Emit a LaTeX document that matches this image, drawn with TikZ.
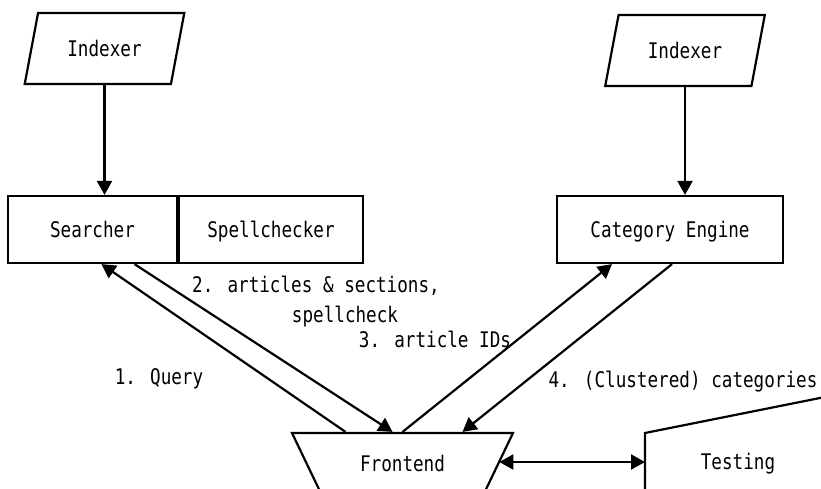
\documentclass[tikz,border=0pt]{standalone}
\usepackage{fontspec}
\newfontfamily\gothicfont[FakeStretch=0.82]{DejaVu Sans Mono}
\usetikzlibrary{
    arrows.meta,
    shapes.geometric
}

\begin{document}
\begin{tikzpicture}[x=1pt,y=-1pt,line width=2.2pt,>={Triangle[width=15pt,length=14pt]},font=\gothicfont\fontsize{21.5}{25}\selectfont]
    \tikzstyle{every node}=[text height=15.7pt, text depth=0pt]
    \tikzstyle{box}=[draw, rectangle, minimum height=67pt]
    \tikzstyle{indexer}=[draw, trapezium, trapezium left angle=70, trapezium right angle=110, trapezium stretches=true, minimum width=161pt, minimum height=71pt]
    \tikzstyle{lbl}=[inner sep=0pt]
    \useasboundingbox (0,0) rectangle (821,488);
    \clip (0,0) rectangle (821,488);
    \node[indexer] (idxl) at (104.5, 48.5){Indexer};
    \node[indexer] (idxr) at (685, 50.5){Indexer};
    \node[box, minimum width=169pt] (srch) at (92.5, 229.5){Searcher};
    \node[box, minimum width=184pt] (spell) at (271, 229.5){Spellchecker};
    \node[box, minimum width=226pt] (cat) at (670, 229.5){Category Engine};
    \node[draw, trapezium, shape border rotate=180, trapezium angle=53, trapezium stretches=true, minimum width=221pt, minimum height=62pt] (front) at (402.5, 464){Frontend};
    \node[minimum width=186pt, outer sep=0pt] (test) at (738, 462){Testing};
    \draw (test.west |- 0,500) -- (test.west |- 0,433) -- ++(215,-43);
    \node[lbl] (l1) at (159, 376.5) {1. Query};
    \node[lbl] (l2) at (316, 285) {2. articles \& sections,};
    \node[lbl] (l2b) at (345, 315) {spellcheck};
    \node[lbl] (l3) at (435, 340) {3. article IDs};
    \node[lbl] (l4) at (683, 380) {4. (Clustered) categories};
    \draw[->] (idxl.south) -- (idxl.south |- srch.north);
    \draw[->] (idxr.south) -- (idxr.south |- cat.north);
    \draw[->] ([xshift=-57pt]front.north) -- ([xshift=9pt]srch.south);
    \draw[->] ([xshift=42pt]srch.south) -- ([xshift=-10pt]front.north);
    \draw[->] (front.north) -- ([xshift=-58pt]cat.south);
    \draw[->] ([xshift=2pt]cat.south) -- ([xshift=60pt]front.north);
    \draw[<->] (front.east |- test.west) -- (test.west);
\end{tikzpicture}
\end{document}
